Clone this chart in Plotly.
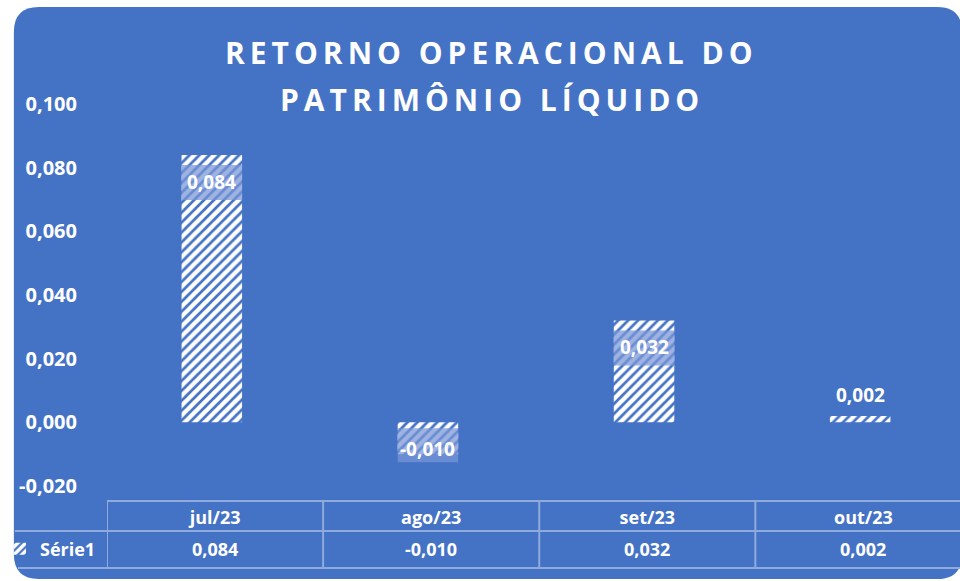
import plotly.graph_objects as go

categories = ["jul/23", "ago/23", "set/23", "out/23"]
values = [0.084, -0.010, 0.032, 0.002]
series_name = "Série1"
tick_values = [-0.02, 0.0, 0.02, 0.04, 0.06, 0.08, 0.10]
tick_labels = ["-0,020", "0,000", "0,020", "0,040", "0,060", "0,080", "0,100"]
title_lines = ["RETORNO OPERACIONAL DO", "PATRIMÔNIO LÍQUIDO"]

BLUE = "#4472C4"
LINE = "#8FAADC"
FONT = "Open Sans"

W, H = 960, 581
ML, MT, MB = 103.5, 104, 81
PW = W - ML
PH = H - MT - MB
YMIN, YMAX = -0.0244, 0.10
PX_PER_UNIT = PH / (YMAX - YMIN)
BAR_W = 0.28
BAR_OFF = -0.155  # bar left edge relative to category centre


def px_x(p):
    return (p - ML) / PW


def px_y(p):
    return (H - MB - p) / PH


def fmt(v):
    return f"{v:.3f}".replace(".", ",")


fig = go.Figure()
fig.add_trace(go.Bar(
    x=categories, y=values, name=f"<b>{series_name}</b>", width=BAR_W, offset=BAR_OFF,
    marker=dict(color=BLUE, line=dict(width=0),
                pattern=dict(shape="/", fgcolor="#FFFFFF", bgcolor=BLUE,
                             fgopacity=1, fillmode="replace",
                             size=7, solidity=0.62)),
    showlegend=True, hoverinfo="skip",
))

shapes = []
annotations = []

# rounded blue background
x0, x1 = px_x(10), px_x(962)
y0, y1 = px_y(579), px_y(7)
rx, ry = 25 / PW, 25 / PH
path = (f"M {x0+rx},{y1} L {x1-rx},{y1} Q {x1},{y1} {x1},{y1-ry} "
        f"L {x1},{y0+ry} Q {x1},{y0} {x1-rx},{y0} L {x0+rx},{y0} "
        f"Q {x0},{y0} {x0},{y0+ry} L {x0},{y1-ry} Q {x0},{y1} {x0+rx},{y1} Z")
shapes.append(dict(type="path", path=path, xref="paper", yref="paper",
                   fillcolor=BLUE, line=dict(width=0), layer="below"))

BOX = "rgba(120,150,215,0.72)"
LBL = dict(family=FONT, size=19, color="white", weight="bold")

# data labels
for i, v in enumerate(values):
    h = abs(v) * PX_PER_UNIT
    bl, br = i + BAR_OFF, i + BAR_OFF + BAR_W
    cx = (bl + br) / 2
    if v >= 0 and h > 40:
        shapes.append(dict(type="rect", xref="x", yref="y", x0=bl, x1=br,
                           ysizemode="pixel", yanchor=v, y0=-10, y1=-45,
                           fillcolor=BOX, line=dict(width=0)))
        annotations.append(dict(x=cx, y=v, xref="x", yref="y", text=fmt(v),
                                showarrow=False, yshift=-27, font=LBL))
    elif v < 0:
        shapes.append(dict(type="rect", xref="x", yref="y", x0=bl, x1=br,
                           ysizemode="pixel", yanchor=v, y0=26, y1=-8,
                           fillcolor=BOX, line=dict(width=0)))
        annotations.append(dict(x=cx, y=v, xref="x", yref="y", text=fmt(v),
                                showarrow=False, yshift=5, font=LBL))
    else:
        annotations.append(dict(x=cx, y=v, xref="x", yref="y", text=fmt(v),
                                showarrow=False, yshift=21, font=LBL))

# data table
row_mid = px_y(531)
row_bot = px_y(568)
for i in range(len(categories) + 1):
    shapes.append(dict(type="line", xref="x", yref="paper", x0=i - 0.5, x1=i - 0.5,
                       y0=0, y1=row_bot, line=dict(color=LINE, width=2)))
shapes.append(dict(type="line", xref="paper", yref="paper", x0=px_x(11), x1=1.02,
                   y0=row_mid, y1=row_mid, line=dict(color=LINE, width=2)))
shapes.append(dict(type="line", xref="paper", yref="paper", x0=px_x(14), x1=1.02,
                   y0=row_bot, y1=row_bot, line=dict(color=LINE, width=2)))
for i, v in enumerate(values):
    annotations.append(dict(x=i, y=px_y(549), xref="x", yref="paper",
                            text=fmt(v), showarrow=False, yanchor="middle",
                            font=dict(family=FONT, size=18, color="white", weight="bold")))

# title
for line, yc in zip(title_lines, [53, 100]):
    annotations.append(dict(x=px_x(490), y=px_y(yc), xref="paper", yref="paper",
                            text=f"<span style='letter-spacing:5px'>{line}</span>",
                            showarrow=False, yanchor="middle", xanchor="center",
                            font=dict(family=FONT, size=30, color="white", weight="bold")))

fig.update_layout(
    width=W, height=H,
    margin=dict(l=ML, r=0, t=MT, b=MB, pad=0),
    paper_bgcolor="white", plot_bgcolor="rgba(0,0,0,0)",
    separators=",.",
    shapes=shapes, annotations=annotations,
    legend=dict(x=px_x(-4), y=px_y(549), xanchor="left", yanchor="middle",
                bgcolor="rgba(0,0,0,0)",
                font=dict(family=FONT, size=18, color="white", weight="bold")),
    xaxis=dict(range=[-0.5, -0.5 + PW / 217.0], showline=True, linecolor=LINE,
               linewidth=2, showgrid=False, zeroline=False, ticks="",
               tickfont=dict(family=FONT, size=18, color="white", weight="bold"),
               ticklabelstandoff=0),
    yaxis=dict(range=[YMIN, YMAX], tickvals=tick_values, ticktext=tick_labels,
               showgrid=False, zeroline=False, showline=False, ticks="",
               tickfont=dict(family=FONT, size=20, color="white", weight="bold"),
               ticklabelstandoff=29),
    font=dict(family=FONT, color="white"),
)

fig.write_html("out.html", config={"displayModeBar": False},
               post_script="document.body.style.margin='0';document.body.style.overflow='hidden';")
